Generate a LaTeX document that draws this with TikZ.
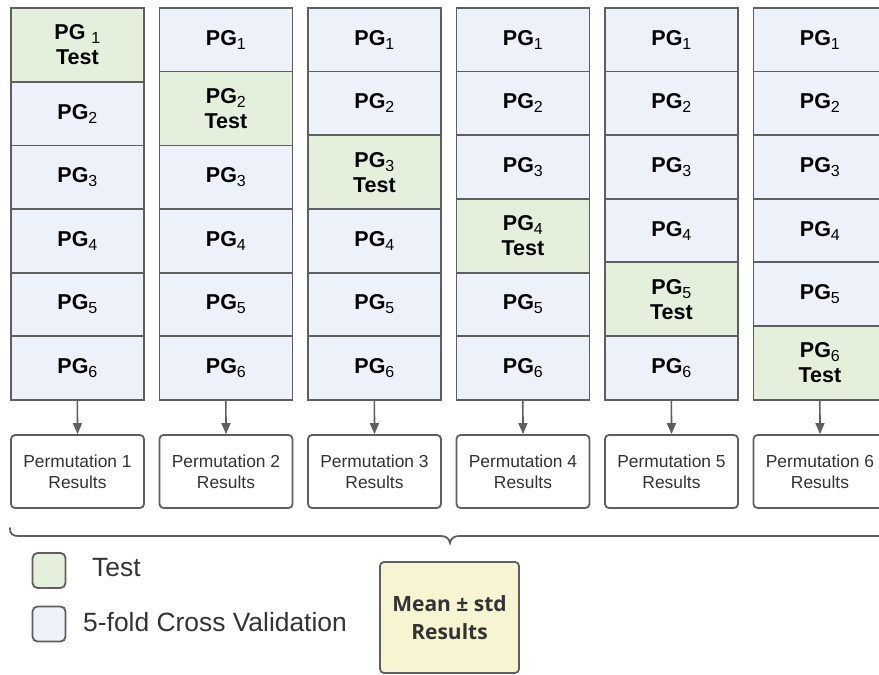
\documentclass[tikz,border=0pt]{standalone}
\usepackage{fontspec}
\setmainfont{Liberation Sans}
\newfontfamily\meanfont{Open Sans}
\usetikzlibrary{arrows.meta}
\definecolor{bordergray}{HTML}{5F5F5F}
\definecolor{testgreen}{HTML}{E4EFDC}
\definecolor{cvblue}{HTML}{ECF1FA}
\definecolor{meanyellow}{HTML}{F7F5D1}
\definecolor{txtgray}{HTML}{333333}
\newcommand\pgsubnum[1]{\raisebox{-4pt}{\fontsize{16}{16}\selectfont\mdseries #1}}
\begin{document}
\begin{tikzpicture}[x=1pt,y=-1pt,
  cell/.style={draw=bordergray, line width=1.8pt, minimum width=133pt, inner sep=0pt,
    align=center, anchor=north west, text=black,
    font=\fontsize{21.5}{25}\selectfont\bfseries},
  resbox/.style={draw=bordergray, line width=1.8pt, rounded corners=4pt, fill=white,
    minimum width=133pt, minimum height=73pt, inner sep=0pt, align=center,
    text=txtgray, font=\fontsize{17.4}{21}\selectfont},
  legbox/.style={draw=bordergray, line width=1.8pt, rounded corners=5pt,
    minimum width=33pt, minimum height=35pt, inner sep=0pt},
  legtext/.style={anchor=west, inner sep=0pt, text=txtgray, font=\fontsize{26.4}{30}\selectfont},
  conn/.style={draw=bordergray, line width=1.6pt, -{Triangle[width=9pt,length=11pt]}},
  meanbox/.style={draw=bordergray, line width=1.8pt, rounded corners=4pt, fill=meanyellow,
    minimum width=139pt, minimum height=111pt, inner sep=0pt, align=center,
    text=txtgray, font=\meanfont\fontsize{21}{28}\selectfont\bfseries}
]
\useasboundingbox (0,0) rectangle (879,675);
\clip (0,0) rectangle (879,675);
\fill[white] (0,0) rectangle (879,675);

\foreach \k in {1,...,6} {
  \pgfmathsetmacro\xl{10+148.5*(\k-1)}
  \foreach \i in {1,...,6} {
    \pgfmathsetmacro\yt{7+63.6*(\i-1)+(\i>\k ? 10.4 : 0)}
    \ifnum\i=\k
      \ifnum\k=1
        \node[cell, fill=testgreen, minimum height=74pt] (c\k r\i) at (\xl,\yt) {PG \pgsubnum{\i}\\Test};
      \else
        \node[cell, fill=testgreen, minimum height=74pt] (c\k r\i) at (\xl,\yt) {PG\pgsubnum{\i}\\Test};
      \fi
    \else
      \node[cell, fill=cvblue, minimum height=63.6pt] (c\k r\i) at (\xl,\yt) {PG\pgsubnum{\i}};
    \fi
  }
  \node[resbox] (res\k) at (\xl+67.5,471.5) {Permutation \k\\Results};
  \draw[conn] (c\k r6.south) -- (res\k.north);
}

\draw[bordergray, line width=1.8pt, line cap=round]
  (10,528) .. controls (10,534) and (12,536) .. (20,536) -- (440,536)
  .. controls (446,536) and (449,538) .. (450,543)
  .. controls (451,538) and (454,536) .. (460,536) -- (880,536)
  .. controls (888,536) and (890,534) .. (890,528);

\node[legbox, fill=testgreen] (legT) at (49,570.5) {};
\node[legtext] (legTtext) at (92,568) {Test};
\node[legbox, fill=cvblue] (legCV) at (49,624) {};
\node[legtext] (legCVtext) at (83,622) {5-fold Cross Validation};

\node[meanbox] (mean) at (449.5,617.5) {Mean ± std\\Results};
\end{tikzpicture}
\end{document}
